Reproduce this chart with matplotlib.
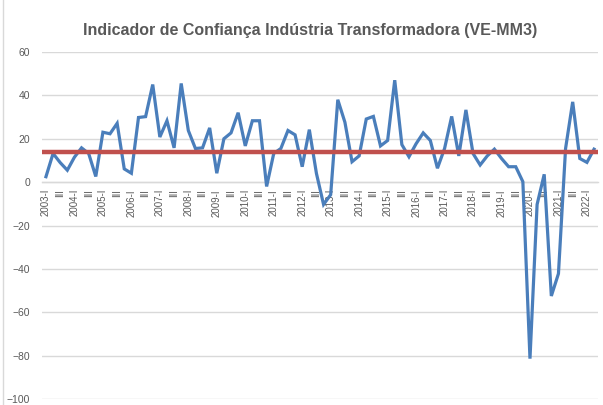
import numpy as np
import matplotlib.pyplot as plt

# quarterly values, 2003-I .. 2022-II
years = list(range(2003, 2023))
values = [2.5, 13.2, 9.0, 5.5, 11.5, 15.8, 13.2, 2.6,
          23.0, 22.3, 27.1, 6.1, 4.1, 29.8, 30.2, 45.0,
          20.8, 28.3, 15.8, 45.5, 23.8, 15.5, 15.8, 25.0,
          4.1, 20.0, 22.7, 32.0, 16.7, 28.3, 28.3, -2.0,
          13.2, 15.5, 23.8, 21.8, 7.1, 24.2, 4.0, -10.3,
          -5.8, 38.0, 27.6, 9.4, 12.1, 29.1, 30.3, 16.7,
          19.2, 47.0, 17.3, 11.7, 17.7, 22.7, 19.2, 6.4,
          15.5, 30.3, 12.1, 33.3, 13.2, 7.9, 12.1, 15.2,
          10.9, 7.1, 7.1, 0.2, -81.4, -10.3, 3.6, -52.5,
          -42.2, 15.5, 37.0, 10.9, 9.1, 15.2]
average = 13.8
title = "Indicador de Confiança Indústria Transformadora (VE-MM3)"

labels = []
for i in range(len(values)):
    y, q = years[0] + i // 4, i % 4
    if q == 0:
        labels.append(f"{y}-I")
    elif q == 2:
        labels.append("III")
    else:
        labels.append("")

text_col = '#595959'
grid_col = '#d9d9d9'

fig = plt.figure(figsize=(6.03, 4.05), dpi=100)
ax = fig.add_axes([42.4/603, 6/405, (597.6-42.4)/603, 347/405])

x = np.arange(len(values))
ax.plot(x, values, color='#4a7ebb', lw=2.3, zorder=3, solid_joinstyle='miter')
ax.plot([-0.5, len(values) - 0.5], [average, average], color='#c0504d', lw=3.2, zorder=4)

ax.set_xlim(-0.5, len(values) - 0.5)
ax.set_ylim(-100, 60)
ax.set_yticks(np.arange(-100, 61, 20))
ax.yaxis.grid(True, color=grid_col, lw=1)
ax.set_axisbelow(True)

for s in ['top', 'right', 'left']:
    ax.spines[s].set_visible(False)
ax.spines['bottom'].set_position(('data', 0))
ax.spines['bottom'].set_color(grid_col)
ax.spines['bottom'].set_linewidth(1)

ax.set_xticks(x)
ax.set_xticklabels(labels, rotation=90, fontsize=7, color=text_col,
                   family='Liberation Sans')
ax.tick_params(axis='x', length=0, pad=5)
ax.tick_params(axis='y', length=0, pad=9, labelsize=7.5, labelcolor=text_col)
for t in ax.get_yticklabels():
    t.set_family('Liberation Sans')

fig.text(0.514, 0.925, title, ha='center', va='center', fontsize=11.5,
         fontweight='bold', color=text_col, family='Liberation Sans')

# chart frame edge on the left
fig.add_artist(plt.Line2D([3/603, 3/603], [0, 1], color=grid_col, lw=1))

plt.savefig('out.png', dpi=100)
